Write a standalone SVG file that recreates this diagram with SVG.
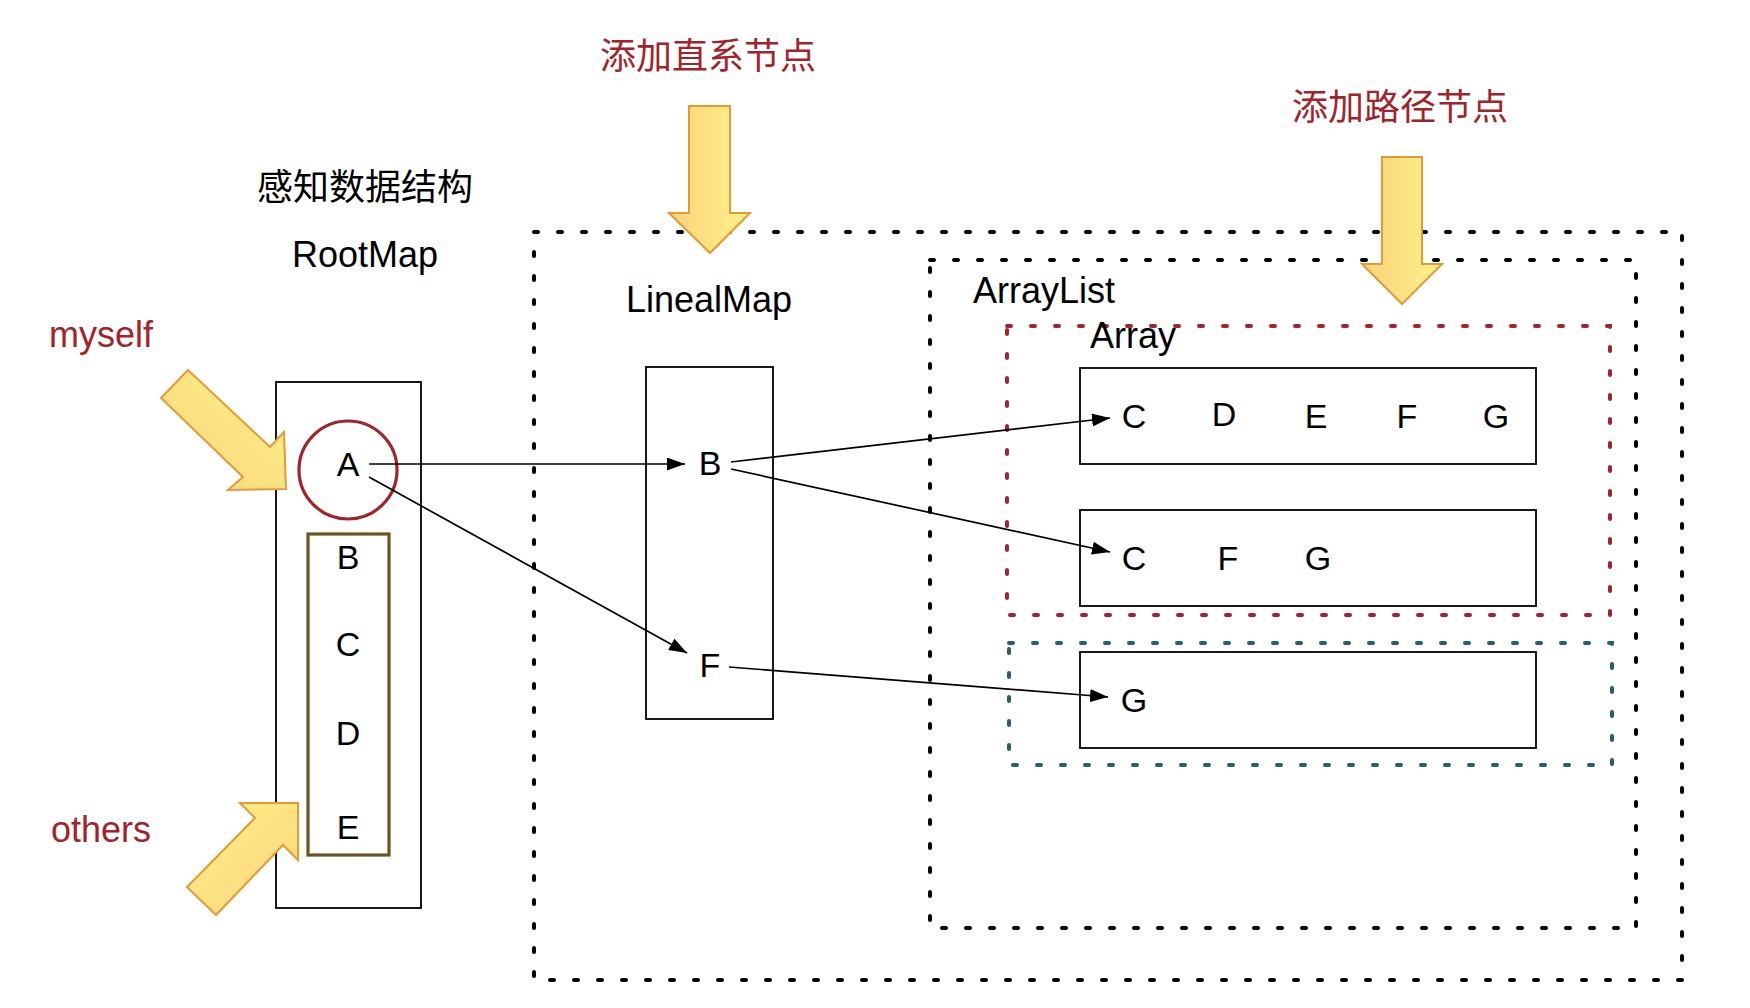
<svg xmlns="http://www.w3.org/2000/svg" width="1750" height="1008" viewBox="0 0 1750 1008">
<style>
.lbl{font-family:"Liberation Sans",Arial,sans-serif;font-size:36px;fill:#000}
.let{font-family:"Liberation Sans",Arial,sans-serif;font-size:34px;fill:#000;text-anchor:middle}
.red{font-family:"Liberation Sans",Arial,sans-serif;font-size:36px;fill:#a3232a}
.cjk{font-family:"Liberation Sans","Noto Sans CJK SC",sans-serif;font-size:36px;text-anchor:middle}
.box{fill:none;stroke:#000;stroke-width:1.8}
.dot{fill:none;stroke-width:4;stroke-dasharray:4 20;stroke-linecap:round}
.yarrow{stroke:#E59A35;stroke-width:2;stroke-linejoin:miter}
.conn{fill:none;stroke:#000;stroke-width:1.7;marker-end:url(#ah)}
</style>
<defs>
<marker id="ah" viewBox="0 0 18 13" refX="18" refY="6.5" markerWidth="18" markerHeight="13" markerUnits="userSpaceOnUse" orient="auto">
<path d="M0,0 L18,6.5 L0,13 z" fill="#000"/>
</marker>
<linearGradient id="gDown" x1="0" y1="0" x2="1" y2="0">
<stop offset="0" stop-color="#F9D37A"/><stop offset="1" stop-color="#FFF28A"/>
</linearGradient>
<linearGradient id="gMy" x1="0" y1="1" x2="1" y2="0">
<stop offset="0" stop-color="#F9D37A"/><stop offset="1" stop-color="#FFF28A"/>
</linearGradient>
<linearGradient id="gOt" x1="0" y1="0" x2="1" y2="1">
<stop offset="0" stop-color="#FFF28A"/><stop offset="1" stop-color="#F9D37A"/>
</linearGradient>
</defs>
<rect width="1750" height="1008" fill="#fff"/>

<g id="outer-box"><rect class="dot" stroke="#000" x="534" y="232" width="1148" height="748"/></g>
<g id="arraylist-box"><rect class="dot" stroke="#000" x="930" y="260" width="706" height="668"/>
<text class="lbl" x="973" y="303">ArrayList</text></g>
<g id="array-box"><rect class="dot" stroke="#a3232a" x="1007" y="326" width="603" height="289"/>
<text class="lbl" x="1090" y="348">Array</text></g>
<g id="teal-box"><rect class="dot" stroke="#2a5f62" x="1009" y="643" width="603" height="122"/></g>

<g id="title-perception"><text class="cjk" x="365" y="200" fill="#000">感知数据结构</text></g>
<g id="title-direct"><text class="cjk" x="708" y="69" fill="#a3232a">添加直系节点</text></g>
<g id="title-path"><text class="cjk" x="1400" y="120" fill="#a3232a">添加路径节点</text></g>

<g id="rootmap">
<text class="lbl" x="365" y="267" text-anchor="middle">RootMap</text>
<rect class="box" x="276" y="382" width="145" height="526"/>
</g>
<g id="node-A">
<circle cx="348" cy="470" r="49" fill="none" stroke="#a3232a" stroke-width="3.2"/>
<text class="let" x="348" y="476">A</text>
</g>
<g id="others-list">
<rect x="308" y="534" width="81" height="321" fill="none" stroke="#6b5520" stroke-width="3.2"/>
<text class="let" x="348" y="569">B</text>
<text class="let" x="348" y="656">C</text>
<text class="let" x="348" y="745">D</text>
<text class="let" x="348" y="839">E</text>
</g>

<g id="linealmap">
<text class="lbl" x="709" y="312" text-anchor="middle">LinealMap</text>
<rect class="box" x="646" y="367" width="127" height="352"/>
<text class="let" x="710" y="475">B</text>
<text class="let" x="710" y="677">F</text>
</g>

<g id="array1">
<rect class="box" x="1080" y="368" width="456" height="96"/>
<text class="let" x="1134" y="428">C</text>
<text class="let" x="1224" y="426">D</text>
<text class="let" x="1316" y="428">E</text>
<text class="let" x="1407" y="428">F</text>
<text class="let" x="1496" y="428">G</text>
</g>
<g id="array2">
<rect class="box" x="1080" y="510" width="456" height="96"/>
<text class="let" x="1134" y="570">C</text>
<text class="let" x="1228" y="570">F</text>
<text class="let" x="1318" y="570">G</text>
</g>
<g id="array3">
<rect class="box" x="1080" y="652" width="456" height="96"/>
<text class="let" x="1134" y="712">G</text>
</g>

<g id="connectors">
<line class="conn" x1="369" y1="464" x2="685" y2="464"/>
<line class="conn" x1="369" y1="477" x2="687" y2="653"/>
<line class="conn" x1="731" y1="462" x2="1110" y2="418"/>
<line class="conn" x1="731" y1="469" x2="1110" y2="552"/>
<line class="conn" x1="729" y1="667" x2="1108" y2="697"/>
</g>

<g id="myself">
<text class="red" x="49" y="347">myself</text>
<polygon class="yarrow" fill="url(#gMy)" points="188,370 270,447 284,432 286,489 228,490 243,477 161,398"/>
</g>
<g id="others">
<text class="red" x="51" y="842">others</text>
<polygon class="yarrow" fill="url(#gOt)" points="240,803 298,803 298,860 283,845 216,915 187,887 255,818"/>
</g>
<g id="arrow-direct">
<polygon class="yarrow" fill="url(#gDown)" points="689,106 730,106 730,213 750,213 710,253 669,213 689,213"/>
</g>
<g id="arrow-path">
<polygon class="yarrow" fill="url(#gDown)" points="1382,157 1422,157 1422,264 1442,264 1402,304 1362,264 1382,264"/>
</g>
</svg>
